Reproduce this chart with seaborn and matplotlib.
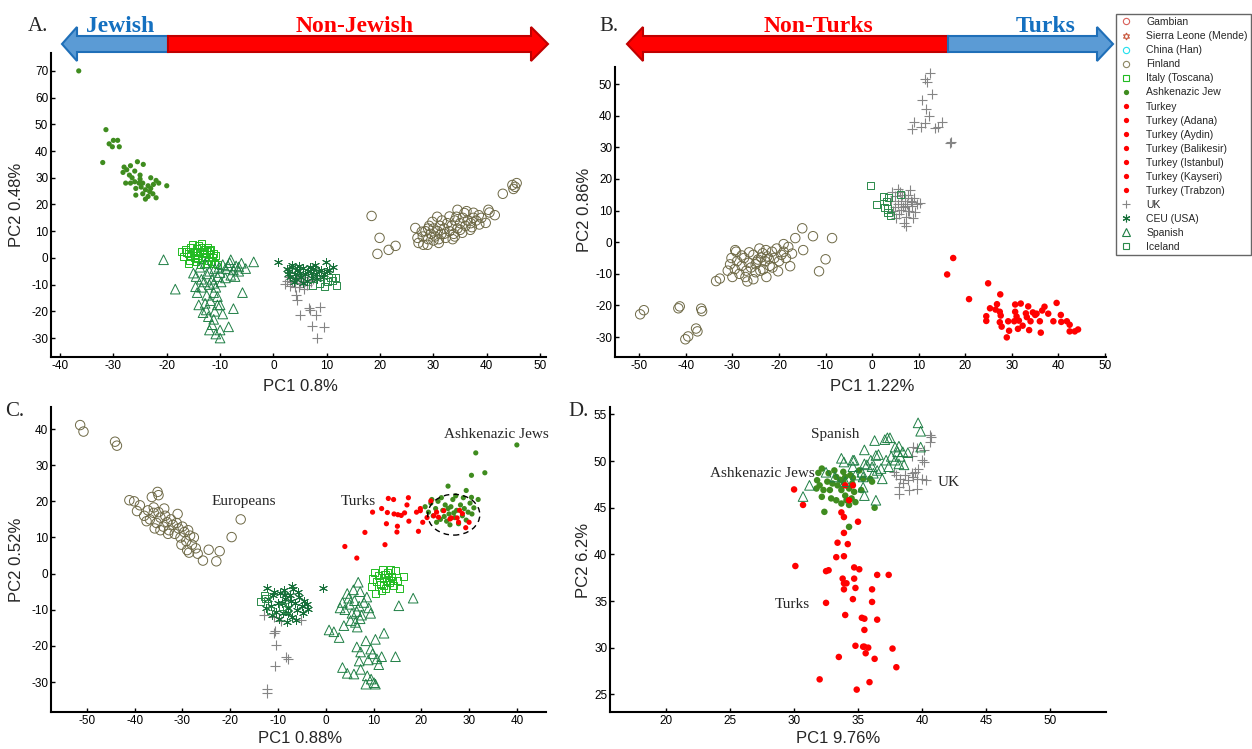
import numpy as np
import pandas as pd
import matplotlib
matplotlib.use("Agg")
import matplotlib.pyplot as plt
import seaborn as sns
from matplotlib.lines import Line2D
from matplotlib.patches import Ellipse, Polygon

sns.set_theme(style="ticks")
plt.rcParams['font.family'] = ['Liberation Sans', 'DejaVu Sans']
plt.rcParams['axes.unicode_minus'] = False

# ---------------- DATA ----------------
# Panel A (PC1 0.8%, PC2 0.48%)
A_finland = [(18.4,15.7),(19.9,7.5),(19.5,1.5),(21.6,3),(22.9,4.5),(43,24),(44.8,27.3),(45,25.8),(45.6,28),(45.3,26.6),
    (26.6,11.2),(27.2,5.6),(28.1,4.9),(28.9,4.9),(31,5.6),(30.7,15.4),(34.5,18),(34.3,15.4),(37.5,16.9),(40.3,18),(39.8,13.1),
    (36.9,10.5),(35.4,9.4),(28,8),(28.5,10),(29,7),(29.5,9),(30,11),(30.3,8),(30.8,10),(31.2,12),(31.5,9),(32,11),(32.3,7.5),
    (32.6,13),(33,10),(33.4,12),(33.8,9),(34,14),(34.5,11),(35,13),(35.5,15),(36,12),(36.4,14),(37,13),(37.5,15),(38,14),
    (38.5,16),(39,15),(29.2,12),(31.6,14),(33,15.5),(35.8,16.8),(37.2,11.5),(30,6.5),(32,9),(33.6,7),(29.8,13.5),(27.8,9.8),
    (36.2,17.5),(38.6,12.5),(40.5,17),(41.5,16),(35,10.5),(34,8),(31,7),(29,11),(27,7.5)]
A_italy = [(-17.3,2.5),(-16.5,3),(-16,1.5),(-15.5,4),(-15,2),(-14.8,0),(-14.5,3.5),(-14.2,1),(-14,4.5),(-13.8,2.5),(-13.5,-0.5),
    (-13.2,1.8),(-13,3.2),(-12.8,0.5),(-12.5,2.2),(-12.2,-1),(-12,1.2),(-11.8,3),(-11.5,0),(-11.2,1.8),(-11,-2),(-10.8,0.8),
    (-10.5,-2.5),(-14.6,-1.5),(-15.8,-0.8),(-16.8,0.5),(-13.6,-2.5),(-12.6,-2),(-15.2,5),(-13.4,5.2),(-14.4,2),(-13,0),(-12,2.6),
    (-15.6,1),(-16.2,2.2),(-11.6,-1.2),(-14.2,-0.2),(-13.4,3.8),(-12.4,4),(-16,-2)]
A_ashk = [(-36.5,70),(-31.4,48),(-30.8,42.7),(-30,44),(-29.2,44),(-30.2,41.6),(-28.9,41.6),(-32,35.7),(-28,34),(-27.5,33),
    (-26.8,34.5),(-28.2,32),(-27,31),(-26,32.5),(-25.5,36),(-24.4,35),(-25,31),(-27.7,28),(-26.8,28),(-26,28.5),(-25.2,28),
    (-24.5,28),(-23.5,27),(-24.8,26.5),(-25.8,26),(-24,25.5),(-23,26),(-22.5,27.5),(-22,29),(-21.5,28),(-20,27),(-24.5,24),
    (-23.5,23),(-25.8,23.5),(-22.6,24),(-22,22.5),(-24,22),(-23.2,24.8),(-26.5,30),(-25,29.5),(-23,30)]
A_uk = [(3,-7),(3.5,-9),(4,-6.5),(4.5,-8),(5,-9.5),(5.5,-7),(6,-8.5),(6.5,-6),(7,-9),(2.5,-8.5),(3.2,-10.5),(4.8,-10.8),
    (6.2,-10.2),(5.8,-11.5),(4,-11),(7.5,-7.8),(2.2,-9.8),(4.3,-13.9),(4.5,-15.8),(5,-21.4),(6.6,-18.8),(6.8,-19.5),(7.9,-21.4),
    (8.8,-18.4),(7.3,-25.5),(9.4,-25.8),(8.1,-30)]
A_ceu = [(0.9,-1.5),(9.8,-1.6),(11.2,-3.4),(10.5,-4.5),(2.5,-4),(3,-5),(3.5,-3.5),(4,-6),(4.5,-4.5),(5,-5.5),(5.5,-3.8),(6,-6),
    (6.5,-4.8),(7,-5.5),(7.5,-4),(8,-6),(8.5,-5),(9,-4.5),(9.5,-6),(3.2,-7),(4.2,-8),(5.2,-7),(6.2,-8.5),(7.2,-7.5),(8.2,-8),
    (3.8,-9),(5.6,-9.5),(2.8,-6.2),(10,-5),(4.8,-3),(6.8,-3.5),(9.2,-7),(3.5,-2.5),(7.8,-2.8)]
A_spanish = [(-20.6,-0.7),(-18.4,-11.7),(-15,-5.7),(-14.6,-10.8),(-14.3,-13),(-14,-17.6),(-12.6,-19.5),(-12,-27),(-11.2,-13),
    (-10.5,-17.6),(-10,-17.6),(-11.2,-23),(-10,-27),(-10,-30),(-8.4,-25.8),(-7.5,-19),(-5.8,-13),(-3.7,-1.5),(-8,-0.7),(-6.5,-3.4),
    (-12,-5),(-11,-4),(-10,-5.5),(-9,-4),(-8.5,-3),(-7.5,-4.5),(-7,-3),(-6.5,-5),(-9.5,-2.5),(-10.5,-7),(-11.5,-8),(-12.5,-6),
    (-13,-9),(-12,-10),(-13.5,-11),(-12.5,-14),(-11.8,-16),(-10.8,-11),(-9.8,-9),(-9,-7.5),(-8,-6.5),(-7.2,-7),(-11,-20),
    (-12.2,-22),(-11.5,-25),(-13.5,-8),(-14.5,-7),(-13.8,-3.5),(-12.8,-2),(-8.2,-1.8),(-6,-2),(-5.2,-4),(-10.2,-3.5),(-11.2,-9.5),
    (-10.5,-14.5),(-12.8,-17),(-13.2,-20.5),(-9.5,-21),(-10.8,-28.5)]
A_iceland = [(11.7,-7.5),(11.8,-10.5),(10.2,-9),(8.6,-9.5),(9.5,-10.8),(11,-8.3),(10.8,-7.2),(7.4,-10.3)]

# Panel B (PC1 1.22%, PC2 0.86%)
B_finland = [(-49.8,-22.8),(-49,-21.5),(-41.6,-20.9),(-41.3,-20.3),(-36.5,-21.8),(-36.7,-21),(-40.1,-30.7),(-39.5,-29.8),
    (-37.5,-28.2),(-37.8,-27.3),(-15,4.4),(-16.5,1.3),(-12.7,1.9),(-8.6,1.3),(-10,-5.4),(-11.4,-9.2),(-14.8,-2.5),(-19,-0.6),
    (-17.6,-7.6),(-29.4,-2.5),(-29.2,-3),(-33.5,-12.3),(-32.7,-11.5),(-22.7,-11),(-25.5,-11.7),(-31,-9),(-30.5,-7),(-30,-11),
    (-29.5,-8.5),(-29,-6),(-28.5,-10),(-28,-7.5),(-27.5,-5),(-27,-9),(-26.5,-6.5),(-26,-8),(-25.5,-4),(-25,-7),(-24.5,-5.5),
    (-24,-9),(-23.5,-3.5),(-23,-6),(-22.5,-4.5),(-22,-7.5),(-21.5,-3),(-21,-5),(-20.5,-2),(-20,-6),(-19.5,-4),(-19,-3),
    (-18.5,-5),(-18,-1.5),(-22.8,-2.5),(-24.2,-2),(-26.4,-3.2),(-27.2,-11),(-25,-9.5),(-23.4,-8.6),(-21.4,-8),(-28,-4.2),
    (-30.2,-5),(-26.8,-12.4),(-20.2,-9.2),(-24.8,-6.2),(-22.2,-5.2),(-23.8,-4.8),(-17.2,-3.6)]
B_turkey = [(17.4,-5),(16.1,-10.2),(20.8,-18),(24.9,-13),(27.5,-16.5),(24.5,-23.4),(24.5,-24.9),(25.3,-20.9),(26.5,-21.3),
    (26.8,-19.6),(27.4,-22),(27.6,-23.2),(27.4,-25.3),(27.8,-26.7),(29.2,-25),(29.4,-28),(28.9,-30.1),(30.5,-25),(30.7,-19.7),
    (30.7,-22),(31.3,-27.4),(31.9,-19.4),(31.5,-24.8),(33,-22.5),(33.2,-23.7),(33.7,-27.8),(34,-25),(34.5,-22.2),(35,-23),
    (36,-25),(36.2,-28.6),(36.5,-21.6),(37,-20.4),(37.8,-22.6),(38.9,-25),(39.6,-19.2),(40.5,-23),(40.6,-25.2),(41.8,-25),
    (42.4,-26.1),(42.4,-28.2),(43.5,-28.2),(44.2,-27.6),(32.3,-26.4),(35.3,-22.6),(31,-23.5),(33.5,-20.3)]
B_uk = [(4,13),(4.5,10),(5,14.5),(5.5,12),(5.8,9),(6,16),(6.3,13),(6.6,11),(7,14),(7.2,8),(7.5,12),(7.8,15),(8,10),(8.3,13),
    (8.6,11.5),(9,14),(9.3,9.5),(9.6,12),(10.2,12.5),(6.8,6),(7.2,5),(5.2,7.5),(8.8,7.5),(6.2,10.2),(7.6,9.8),(4.2,15.8),
    (5.6,16.8),(8.2,16.5),(7,11.5),(6.5,14.8),(8.5,12.8),(5,11),(12.4,53.5),(11.4,51.6),(11.8,50.8),(12.9,47),(10.7,45),
    (11.6,42),(12.2,40),(9,38),(8.6,35.7),(11.4,37.7),(10.5,36.3),(13.5,36),(15,38),(14.2,36.5),(16.7,31.3),(17,31.6)]
B_iceland = [(-0.3,18),(2.4,14.5),(1,12),(3,13),(3.4,9.3),(6,15.2),(2.6,11),(3.5,14),(3.2,10.5),(4,8.5)]

# Panel C (PC1 0.88%, PC2 0.52%)
C_finland = [(-51.4,41.1),(-50.7,39.3),(-44.1,36.5),(-43.7,35.4),(-41.1,20.3),(-40.1,20),(-38.9,18.9),(-39.5,17.3),(-36.4,21.2),
    (-35.2,22.6),(-35,21.7),(-36,18.3),(-25.7,3.6),(-24.5,6.6),(-22.9,3.4),(-22.2,6.2),(-19.7,10.1),(-17.8,15),(-38,16),
    (-37.2,17.5),(-36.8,15),(-36,16.8),(-35.4,14),(-35,17),(-34.6,15.5),(-34,13),(-33.6,16),(-33.2,14.2),(-32.8,12),(-32.4,15),
    (-32,13.5),(-31.6,11),(-31.2,14),(-30.8,12.5),(-30.4,10),(-30,13),(-29.6,11.5),(-29.2,9),(-28.8,12),(-28.4,10.5),(-28,8),
    (-27.6,10),(-27.2,7),(-29,6.5),(-30.2,8),(-33,11),(-34.6,12),(-37.5,14.5),(-31,16.5),(-33.8,18),(-35.8,12.5),(-26.8,5.5),
    (-28.6,5.8)]
C_italy = [(9.6,-3.5),(9.8,-1.5),(10.2,0.2),(10.6,-2.2),(11,-0.5),(11.4,-3),(11.8,1),(12.2,-1.2),(12.6,-4),(13,0.4),(13.4,-2.4),
    (13.8,-0.8),(14.2,-3.3),(14.6,0.8),(15,-1.8),(15.4,-4),(16.2,-0.8),(12.8,-2),(13.2,-1),(12.4,-0.2),(14,-2),(11.6,-4.6),
    (10.4,-5.4),(13.6,1.2),(12,-3.2)]
C_ashk = [(40,35.6),(31.4,33.4),(30.5,27.2),(33.3,27.9),(25.6,24.2),(29.4,23),(30.5,21.1),(31.9,20.5),(20.8,18.5),(21.5,17),
    (22,19.5),(22.5,16),(23,18),(23.5,20),(24,15),(24.5,17.5),(25,19),(25.3,14.5),(25.8,16.5),(26.2,18.5),(26.6,20.5),(27,15.5),
    (27.4,17.5),(27.8,13.8),(28.2,19),(28.6,16),(29,18),(29.4,14.8),(29.8,17),(30.2,19.5),(30.6,16.5),(31,18.2),(24.2,21),
    (26,13.5),(23.2,14.2),(27.2,21.5),(28.8,21),(22.2,20.5),(25.6,18),(26.8,16.8),(24.8,15.8)]
C_turkey = [(4,7.5),(6.5,4.3),(8.2,11.4),(9.8,17),(11.7,18),(13.1,20.8),(14.2,20.5),(17.3,21),(12.4,8),(12.7,13.8),(14.9,11.5),
    (15,13.1),(17.4,14.5),(19.4,11.7),(12.9,16.9),(14.3,16.5),(15.1,16.3),(15.8,16.1),(16.5,16.8),(17,19),(19,17),(19.8,17.4),
    (20.3,14.2),(19.8,18),(21.2,15.5),(22,20.1),(22.6,16),(23.6,15.6),(24.7,17.4),(26,15.1),(27.5,15.4),(27.8,14.2),(28.6,16.6),
    (29.3,12.7),(30,14.2),(28,17.5),(26.3,15.4),(23.2,17)]
C_uk = [(-12.9,-11.4),(-10.9,-12.1),(-9.4,-13),(-5.1,-12.8),(-10.9,-16.5),(-10.6,-16),(-10.5,-19.8),(-8.4,-23.2),(-8,-23.5),
    (-10.7,-25.7),(-12.2,-33),(-12.2,-32)]
C_ceu = [(-12.3,-3.9),(-7,-3.3),(-0.5,-4),(-12,-7),(-11.5,-9),(-11,-6),(-10.5,-10.5),(-10,-8),(-9.5,-5.5),(-9,-11),(-8.5,-7),
    (-8,-9.5),(-7.5,-6),(-7,-12),(-6.5,-8),(-6,-10),(-5.5,-6.5),(-5,-9),(-4.5,-7.5),(-4,-8.5),(-9.8,-12.5),(-8.2,-13.5),
    (-6.2,-12.8),(-10.8,-5),(-8.8,-4.5),(-5.8,-5),(-11.2,-11.5),(-7.8,-10.8),(-4.8,-11),(-9.2,-8.2),(-7.2,-7.5),(-6.8,-4.2),
    (-3.8,-9.8),(-12.5,-9.5),(-8.6,-6)]
C_spanish = [(6.8,-2.4),(4.5,-5.5),(7.2,-5),(3.5,-8),(5,-8.5),(6,-7.5),(7,-9),(8,-8),(9,-9.5),(4,-10),(5.5,-11),(6.5,-10.5),
    (7.5,-11.5),(5.2,-13),(6.2,-13.5),(7.2,-12.5),(3,-9.5),(8.6,-6.5),(9.4,-11),(4.8,-6.8),(5.8,-4.5),(6.6,-14.8),(18.3,-6.8),
    (15.3,-8.9),(0.7,-15.6),(1.7,-16.1),(2.8,-17.7),(3.8,-14.4),(12.2,-16.5),(8.4,-18.6),(10.4,-18.2),(6.5,-20.3),(9.4,-20.9),
    (7.3,-21.7),(11.7,-23),(14.6,-23),(10.7,-23.6),(8.9,-23.9),(3.5,-26),(4.5,-27.6),(5.9,-27.8),(7.3,-26.5),(8.7,-28.3),
    (10.1,-30.2),(8.4,-30.6),(10.4,-30.6),(9.5,-29.2),(7,-24.2),(11.1,-25.2),(9.8,-22.2)]
C_iceland = [(-13.6,-7.8),(-12.5,-7),(-12.8,-6.2),(-11.6,-10.3),(-9,-9),(-8.2,-10)]

# Panel D (PC1 9.76%, PC2 6.2%)
D_ashk = [(32.17,49.2),(31.9,48.74),(31.8,47.95),(31.75,47.06),(32.17,46.17),(32.37,44.56),(32.6,47.8),(32.8,46.9),(33.15,49),
    (33.3,48.3),(33,47.6),(33.4,47.4),(33.7,46.9),(32.9,46),(33.3,45.8),(33.7,45.45),(34,46.3),(34.3,47.06),(34.55,47.6),
    (34.4,48.5),(34,48.3),(34.8,45.6),(35.25,46.9),(35.1,49),(35.95,48.1),(36.1,47.8),(36.3,45),(34.3,42.95),(34.1,45.8),
    (33.85,47.8),(33.6,48),(34.5,46),(34.7,46.7),(32.7,48.7),(32,47.4),(34.3,45.3),(35.4,48.1),(32.3,46.9),(33.85,48.85),
    (34.6,48.2)]
D_turkey = [(30,46.96),(30.7,45.3),(33.7,44.5),(33.9,44),(35,43.5),(33.9,42.3),(33.4,41.25),(34.2,41.1),(33.3,39.7),(33.9,39.8),
    (30.1,38.75),(32.5,38.2),(32.7,38.3),(34.7,38.6),(35.1,38.4),(36.5,37.8),(37.4,37.8),(33.8,37.4),(34.7,37.4),(33.9,36.9),
    (34.1,36.9),(34.8,36.4),(33.9,36.25),(36.1,36.25),(34.6,35.2),(36.1,34.9),(32.5,34.8),(34,33.5),(35.3,33.2),(35.5,33.1),
    (36.5,33),(35.5,31.9),(34.8,30.2),(35.4,30.1),(35.5,30.1),(35.8,30),(37.7,29.9),(33.5,29),(35.6,29.4),(36.3,28.8),(38,27.9),
    (32,26.6),(35.9,26.3),(34.9,25.5),(34,47.4),(34.6,47.4),(34.3,45.8)]
D_uk = [(40.6,52.8),(40.7,52.6),(39.3,51.5),(39.6,51.4),(40.2,51.2),(40,50.1),(40.2,49.9),(39.2,50.6),(37.8,48.8),(38,48.5),
    (38.3,48.1),(38.7,48.5),(39.2,48.7),(38.9,48),(39.3,48.3),(39.6,48.1),(40,48.1),(40.3,48),(39.7,49.2),(38.2,47.2),(38.2,46.5),
    (39,46.9),(39.6,47),(40.6,52.1),(38.5,47.7),(39.45,48.8)]
D_spanish = [(30.7,46.2),(31.2,47.4),(32.5,48.8),(33.7,50.3),(33.9,49.9),(34.6,50.1),(35.5,51.2),(36.3,52.2),(37.1,52.3),
    (37.3,52.5),(37.5,52.5),(37.9,51.5),(38.2,51.6),(38.5,51),(38.9,50.9),(39.7,54.1),(39.9,53.2),(39.9,51.5),(36.4,50.6),
    (36.6,50.7),(36,50.1),(35.5,49.7),(35.7,49.6),(36.1,49.4),(36.8,49.2),(37.2,50.1),(37.6,50.5),(37.9,50.1),(38.2,49.7),
    (38.6,49.6),(37.4,49.4),(35.3,48.8),(35.4,48.3),(36.2,48.7),(36.5,49),(36.9,48.1),(34.8,48.5),(35.4,47.2),(35.5,46.3),
    (36.4,45.8),(33.2,48.3),(34,47.8),(34.6,49.4),(34.7,50.1),(38.1,51),(38.3,50.5)]

legend_labels = ["Gambian", "Sierra Leone (Mende)", "China (Han)", "Finland", "Italy (Toscana)", "Ashkenazic Jew",
                 "Turkey", "Turkey (Adana)", "Turkey (Aydin)", "Turkey (Balikesir)", "Turkey (Istanbul)",
                 "Turkey (Kayseri)", "Turkey (Trabzon)", "UK", "CEU (USA)", "Spanish", "Iceland"]

# ---------------- STYLE ----------------
FIN = '#6e6946'; ITA = '#22bb22'; ASH = '#3f8c1f'; TUR = '#ff0000'; UKC = '#858585'
CEU = '#17703a'; SPA = '#1f7f45'; ICE = '#2a8a4a'
ASTER = (6, 2, 0)
STYLE = {
    'Finland': dict(kind='open', marker='o', s=46, color=FIN, lw=0.7),
    'Italy': dict(kind='open', marker='s', s=26, color=ITA, lw=0.7),
    'Ashk': dict(kind='filled', marker='o', s=14, color=ASH, lw=0),
    'Turkey': dict(kind='filled', marker='o', s=18, color=TUR, lw=0),
    'UK': dict(kind='line', marker='+', s=44, color=UKC, lw=0.8),
    'CEU': dict(kind='line', marker=ASTER, s=34, color=CEU, lw=0.7),
    'Spanish': dict(kind='open', marker='^', s=48, color=SPA, lw=0.7),
    'Iceland': dict(kind='open', marker='s', s=26, color=ICE, lw=0.7),
}

W, H = 1252, 749
fig = plt.figure(figsize=(W / 100, H / 100), dpi=100)


def add_ax(l, r, t, b):
    return fig.add_axes([l / W, 1 - b / H, (r - l) / W, (b - t) / H])


def draw(ax, name, pts, s=None):
    df = pd.DataFrame(pts, columns=['x', 'y'])
    st = STYLE[name]
    kw = dict(marker=st['marker'], s=s or st['s'], linewidth=st['lw'], ax=ax, legend=False, zorder=2)
    if st['kind'] == 'open':
        sns.scatterplot(data=df, x='x', y='y', color=st['color'], facecolor='none', edgecolor=st['color'], **kw)
    elif st['kind'] == 'filled':
        sns.scatterplot(data=df, x='x', y='y', color=st['color'], edgecolor='none', **kw)
    else:
        sns.scatterplot(data=df, x='x', y='y', color=st['color'], **kw)


def style_ax(ax, xlim, ylim, xticks, yticks, xlabel, ylabel, xl_px, yl_px, box):
    l, r, t, b = box
    ax.set_xlim(*xlim); ax.set_ylim(*ylim)
    ax.set_xticks(xticks); ax.set_yticks(yticks)
    ax.set_xticklabels([str(v) for v in xticks]); ax.set_yticklabels([str(v) for v in yticks])
    sns.despine(ax=ax)
    for sp in ['left', 'bottom']:
        ax.spines[sp].set_linewidth(1.5)
        ax.spines[sp].set_color('black')
    ax.tick_params(direction='in', length=3, width=1, labelsize=8.5, pad=2, colors='black')
    ax.set_xlabel(xlabel, fontsize=12)
    ax.set_ylabel(ylabel, fontsize=12)
    xc, ytop = xl_px
    ax.xaxis.set_label_coords((xc - l) / (r - l), (b - ytop) / (b - t))
    xr, yc = yl_px
    ax.yaxis.set_label_coords((xr - l) / (r - l), (b - yc) / (b - t))
    ax.set_facecolor('none')


# ---------- Panel A ----------
boxA = (51, 546, 53, 357)
axA = add_ax(*boxA)
draw(axA, 'Finland', A_finland)
draw(axA, 'Italy', A_italy)
draw(axA, 'Ashk', A_ashk)
draw(axA, 'UK', A_uk)
draw(axA, 'CEU', A_ceu)
draw(axA, 'Spanish', A_spanish)
draw(axA, 'Iceland', A_iceland)
style_ax(axA, (-41.7, 51.1), (-37.1, 76.7), list(range(-40, 51, 10)), list(range(-30, 71, 10)),
         'PC1 0.8%', 'PC2 0.48%', (300, 379), (24, 205), boxA)

# ---------- Panel B ----------
boxB = (615, 1106, 67, 357)
axB = add_ax(*boxB)
draw(axB, 'Finland', B_finland)
draw(axB, 'Turkey', B_turkey, s=22)
draw(axB, 'UK', B_uk)
draw(axB, 'Iceland', B_iceland)
style_ax(axB, (-55.2, 50.2), (-36.3, 55.4), list(range(-50, 51, 10)), list(range(-30, 51, 10)),
         'PC1 1.22%', 'PC2 0.86%', (872, 379), (592, 210), boxB)

# ---------- Panel C ----------
boxC = (51, 546, 407, 712)
axC = add_ax(*boxC)
draw(axC, 'Finland', C_finland)
draw(axC, 'Italy', C_italy)
draw(axC, 'Ashk', C_ashk)
draw(axC, 'Turkey', C_turkey, s=14)
draw(axC, 'UK', C_uk)
draw(axC, 'CEU', C_ceu)
draw(axC, 'Spanish', C_spanish)
draw(axC, 'Iceland', C_iceland)
style_ax(axC, (-57.5, 46.1), (-38.3, 46.1), list(range(-50, 41, 10)), list(range(-30, 41, 10)),
         'PC1 0.88%', 'PC2 0.52%', (300, 731), (24, 560), boxC)
axC.add_patch(Ellipse((26.8, 16.3), 10.9, 11.3, fill=False, ls=(0, (4, 3)), lw=1.0, ec='black', zorder=3))
serif = ['Liberation Serif', 'DejaVu Serif']
axC.text(-24.0, 20.0, 'Europeans', family=serif, fontsize=11, va='center', ha='left')
axC.text(3.1, 20.0, 'Turks', family=serif, fontsize=11, va='center', ha='left')
axC.text(24.8, 38.5, 'Ashkenazic Jews', family=serif, fontsize=11, va='center', ha='left')

# ---------- Panel D ----------
boxD = (610, 1106, 407, 712)
axD = add_ax(*boxD)
draw(axD, 'Ashk', D_ashk, s=22)
draw(axD, 'Turkey', D_turkey, s=22)
draw(axD, 'UK', D_uk)
draw(axD, 'Spanish', D_spanish)
style_ax(axD, (15.6, 54.4), (23.1, 55.8), list(range(20, 51, 5)), list(range(25, 56, 5)),
         'PC1 9.76%', 'PC2 6.2%', (838, 731), (591, 560), boxD)
axD.text(31.3, 52.9, 'Spanish', family=serif, fontsize=11, va='center', ha='left')
axD.text(31.6, 48.7, 'Ashkenazic Jews', family=serif, fontsize=11, va='center', ha='right')
axD.text(41.2, 47.7, 'UK', family=serif, fontsize=11, va='center', ha='left')
axD.text(28.5, 34.6, 'Turks', family=serif, fontsize=11, va='center', ha='left')

# ---------- Arrows & panel letters ----------
def P(x, y):
    return (x / W, 1 - y / H)

BLUE_F, BLUE_E = '#5b9bd5', '#1f6fb8'
RED_F, RED_E = '#ff0000', '#c00000'
y0, y1, y2, y3, yc = 27, 36, 52, 61, 44
arrows = [
    ([(62, yc), (77, y0), (77, y1), (168, y1), (168, y2), (77, y2), (77, y3)], BLUE_F, BLUE_E),
    ([(168, y1), (531, y1), (531, y0), (548, yc), (531, y3), (531, y2), (168, y2)], RED_F, RED_E),
    ([(627, yc), (643, y0), (643, y1), (948, y1), (948, y2), (643, y2), (643, y3)], RED_F, RED_E),
    ([(948, y1), (1097, y1), (1097, y0), (1113, yc), (1097, y3), (1097, y2), (948, y2)], BLUE_F, BLUE_E),
]
for pts, fc, ec in arrows:
    fig.patches.append(Polygon([P(*p) for p in pts], closed=True, fc=fc, ec=ec, lw=1.5,
                               transform=fig.transFigure, figure=fig))

TXT_BLUE = '#1470c0'
fig.text(*P(120, 32), 'Jewish', family=serif, fontsize=17, fontweight='bold', color=TXT_BLUE, ha='center', va='baseline')
fig.text(*P(355, 32), 'Non-Jewish', family=serif, fontsize=17, fontweight='bold', color='#ff0000', ha='center', va='baseline')
fig.text(*P(818, 32), 'Non-Turks', family=serif, fontsize=17, fontweight='bold', color='#ff0000', ha='center', va='baseline')
fig.text(*P(1046, 32), 'Turks', family=serif, fontsize=17, fontweight='bold', color=TXT_BLUE, ha='center', va='baseline')

for lab, x, y in [('A.', 28, 31), ('B.', 599, 31), ('C.', 5, 416), ('D.', 568, 416)]:
    fig.text(*P(x, y), lab, family=serif, fontsize=15, ha='left', va='baseline')

# ---------- Legend ----------
def h_open(m, c, ms=4.5):
    return Line2D([], [], ls='none', marker=m, mfc='none', mec=c, ms=ms, mew=0.8)

def h_fill(c, ms=3.8):
    return Line2D([], [], ls='none', marker='o', mfc=c, mec=c, ms=ms, mew=0)

def h_line(m, c, ms=6):
    return Line2D([], [], ls='none', marker=m, color=c, ms=ms, mew=0.8)

handles = [h_open('o', '#d9605a'), h_open((6, 1, 0), '#c8553a', ms=5), h_open('o', '#22e0ee'), h_open('o', '#8c8763'),
           h_open('s', ITA, ms=4.2), h_fill(ASH)] + [h_fill(TUR) for _ in range(7)] + \
          [h_line('+', UKC), h_line(ASTER, CEU, ms=5.5), h_open('^', SPA, ms=5.5), h_open('s', ICE, ms=4.2)]
leg = fig.legend(handles, legend_labels, loc='upper left', bbox_to_anchor=(1116 / W, 1 - 14 / H),
                 bbox_transform=fig.transFigure, frameon=True, fancybox=False, fontsize=7.5,
                 handlelength=1.3, handletextpad=1.3, borderpad=0.3, labelspacing=0.39, borderaxespad=0)
leg.get_frame().set_edgecolor('#404040')
leg.get_frame().set_linewidth(1.0)

fig.savefig('out.png', dpi=100, facecolor='white')
